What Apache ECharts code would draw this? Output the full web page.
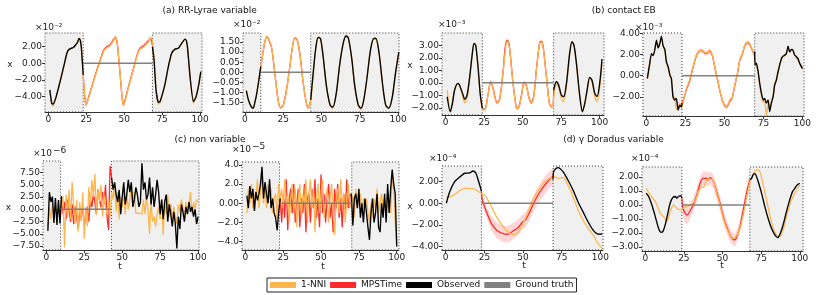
<!DOCTYPE html>
<html><head><meta charset="utf-8">
<script src="https://cdn.jsdelivr.net/npm/echarts@6/dist/echarts.min.js"></script>
<style>html,body{margin:0;padding:0;background:#fff}#c{width:831px;height:295px}</style>
</head><body><div id="c"></div><script>
// ---------- shared ticks ----------
const X_TICKS = [0, 25, 50, 75, 100];
const X_LABELS = ['0', '25', '50', '75', '100'];
function seq(t0, vals){ return vals.map((v,i)=>[t0+i, v]); }

// ---------- (a) RR-Lyrae, panel 1 (x1e-2) ----------
const A1_yticks = [2,0,-2,-4];
const A1_ylabels = ['2.00','0.00','−2.00','−4.00'];
const A1_gap = [23.0, 68.6];
const A1_truth = [[23.0,0],[68.6,0]];
const A1_obsL = [[1,-3.2],[2.2,-4.8],[3.3,-4.9],[5,-4.1],[6.6,-3.0],[8.8,-1.4],[11,0.3],[12.2,1.2],[13.2,1.6],[15,1.8],[16.5,1.9],[18,2.2],[19.2,2.5],[20.2,3.0],[21,2.8],[21.8,1.8],[23,-1.4]];
const A1_obsR = [[68.6,2.0],[69.7,0.4],[71,-3.2],[72.5,-4.7],[73.6,-4.6],[75.5,-3.5],[77,-2.4],[79.1,-0.4],[81.3,1.2],[83.5,1.7],[85.7,1.8],[87.9,2.4],[90.1,2.9],[91,2.7],[91.8,1.8],[93.4,-1.6],[95.6,-4.6],[97.4,-4.0],[99.3,-2.4],[100.5,-1.0]];
const A1_nni = [[1,-3.3],[2.5,-5.1],[3.5,-5.0],[5,-4.2],[6.6,-3.1],[8.8,-1.5],[11,0.2],[12.2,1.1],[13.2,1.6],[15,1.8],[16.5,1.9],[18,2.2],[19.2,2.6],[20.2,3.0],[21,2.9],[21.8,2.0],[23,-1.6],[24,-4.0],[24.8,-5.1],[25.5,-4.8],[27.5,-3.6],[30.8,-1.6],[34,0.2],[36.3,1.4],[38,1.8],[40.7,2.1],[42.8,2.7],[44.4,3.2],[45.5,2.4],[47.3,-1.2],[48.5,-3.8],[49.4,-5.1],[50.3,-4.7],[52.7,-3.0],[56,-0.8],[58.7,1.0],[60.4,1.7],[63,2.0],[65.9,2.6],[67.7,3.1],[68.8,2.6],[69.7,0.4],[71,-3.3],[72.5,-4.9],[73.6,-4.8],[75.5,-3.6],[77,-2.5],[79.1,-0.5],[81.3,1.1],[83.5,1.7],[85.7,1.8],[87.9,2.4],[90.1,2.9],[91,2.8],[91.8,2.0],[93.4,-1.5],[95.6,-4.8],[97.4,-4.1],[99.3,-2.5],[100.5,-1.1]];
const A1_mps = [[23,-1.4],[24,-4.0],[24.8,-5.0],[25.5,-4.7],[27.5,-3.5],[30.8,-1.5],[34,0.3],[36.3,1.5],[38,1.9],[40.7,2.2],[42.8,2.8],[44.4,3.1],[45.5,2.3],[47.3,-1.3],[48.5,-3.9],[49.4,-5.0],[50.3,-4.6],[52.7,-2.9],[56,-0.7],[58.7,1.1],[60.4,1.8],[63,2.1],[65.9,2.7],[67.7,3.0],[68.6,2.2]];
const A1_band = [0.1,0.15,0.2,0.2,0.2,0.2,0.2,0.25,0.25,0.25,0.3,0.35,0.3,0.2,0.2,0.2,0.2,0.2,0.2,0.25,0.25,0.25,0.3,0.35,0.2];

// ---------- (a) RR-Lyrae, panel 2 (x1e-2) ----------
const A2_yticks = [1.5,1,0.5,0,-0.5,-1,-1.5];
const A2_ylabels = ['1.50','1.00','0.05','0.00','−0.05','−1.00','−1.50'];
const A2_gap = [10.4, 43.0];
const A2_truth = [[10.4,0],[43.0,0]];
const A2_obsL = [[1,-0.9],[2.5,-1.4],[4.4,-1.72],[5.4,-1.77],[6.5,-1.5],[7.6,-1.12],[9.3,-0.3],[10.4,0.28]];
const A2_obsR = [[43,-1.36],[44.6,-0.05],[46.4,1.26],[47.9,1.72],[49.4,1.65],[51.1,0.77],[53.3,-0.71],[55.6,-1.61],[57.3,-1.72],[59.5,-1.12],[62,0.44],[64.2,1.43],[66,1.79],[67.5,1.7],[69.6,0.77],[71.8,-0.71],[74,-1.61],[75.8,-1.77],[77.6,-1.36],[79.8,-0.22],[82,1.1],[84.2,1.67],[85.5,1.67],[87.6,0.94],[89.8,-0.54],[91.9,-1.61],[93.9,-1.77],[96.1,-1.28],[98.3,-0.05],[100.5,1.0]];
const A2_nni = [[1,-0.9],[2.5,-1.45],[4.4,-1.75],[5.4,-1.78],[6.5,-1.5],[7.6,-1.1],[9.3,-0.3],[10.4,0.28],[11.9,1.0],[13,1.5],[14.3,1.78],[15.5,1.65],[17.4,1.26],[19.6,-0.05],[21.7,-1.36],[23.3,-1.77],[25,-1.66],[27.2,-0.87],[29.4,0.28],[31.1,1.26],[32.6,1.7],[34.1,1.63],[35.9,0.94],[38,-0.46],[39.8,-1.36],[41.3,-1.77],[43,-1.36],[44.6,-0.05],[46.4,1.26],[47.9,1.75],[49.4,1.7],[51.1,0.77],[53.3,-0.71],[55.6,-1.61],[57.3,-1.78],[59.5,-1.12],[62,0.44],[64.2,1.43],[66,1.82],[67.5,1.7],[69.6,0.77],[71.8,-0.71],[74,-1.65],[75.8,-1.85],[77.6,-1.4],[79.8,-0.22],[82,1.1],[84.2,1.7],[85.5,1.68],[87.6,0.94],[89.8,-0.54],[91.9,-1.65],[93.9,-1.8],[96.1,-1.28],[98.3,-0.05],[100.5,1.0]];
const A2_mps = [[10.4,0.28],[11.9,1.0],[13,1.5],[14.3,1.76],[15.5,1.63],[17.4,1.24],[19.6,-0.07],[21.7,-1.38],[23.3,-1.76],[25,-1.64],[27.2,-0.85],[29.4,0.3],[31.1,1.27],[32.6,1.7],[34.1,1.62],[35.9,0.92],[38,-0.48],[39.8,-1.38],[41.3,-1.76],[43,-1.36]];
const A2_band = [0.03,0.05,0.06,0.07,0.07,0.06,0.05,0.05,0.06,0.06,0.05,0.06,0.07,0.07,0.06,0.05,0.05,0.06,0.06,0.04];

// ---------- (b) contact EB, panel 1 (x1e-3) ----------
const B1_yticks = [4,3,2,1,0,-1,-2];
const B1_ylabels = ['4.00','3.00','2.00','1.00','0.00','−1.00','−2.00'];
const B1_gap = [23.8, 70.1];
const B1_truth = [[23.8,0],[70.1,0]];
const B1_obsL = [[1,-1.12],[3,-2.32],[4.3,-1.7],[5.8,-0.58],[8,-0.05],[9,-0.2],[11.3,-0.98],[12.3,-1.33],[13.9,-0.98],[15.6,0.48],[17.3,2.35],[18.4,3.15],[19.5,3.0],[21,1.28],[22.5,-0.98],[23.8,-2.05]];
const B1_obsR = [[70.1,-0.58],[71.9,0.08],[73.4,-0.2],[75.1,-0.98],[76.6,-1.12],[78.4,-0.05],[80.5,2.35],[82,3.28],[83.3,3.0],[84.9,1.55],[87,-0.98],[88.8,-2.32],[90.3,-1.65],[92,-0.45],[93.5,0.43],[95,0.2],[96.8,-0.85],[98.3,-1.1],[100,-0.05],[101.5,1.9]];
const B1_nni = [[1,-0.6],[3,-2.2],[4.3,-1.6],[5.8,-0.55],[8,-0.05],[9,-0.25],[11.3,-1.2],[12.3,-1.6],[13.9,-1.2],[15.6,0.4],[17.3,2.3],[18.4,3.1],[19.5,2.95],[21,1.2],[22.5,-1.1],[23.8,-2.1],[25.3,-2.18],[27.5,-0.98],[29.2,0.08],[30.7,-0.45],[33.3,-1.65],[35,-1.4],[37.2,0.75],[39.4,3.2],[40.5,3.25],[41.6,2.6],[43.7,-0.05],[45.9,-2.05],[47,-2.1],[49.1,-1.12],[50.9,0],[52.4,-0.3],[54.1,-1.25],[55.6,-1.65],[57.2,-1.12],[58.9,1.0],[61,3.15],[62.1,3.25],[63.2,2.9],[65.4,0.48],[67.5,-1.78],[69.3,-1.97],[70.1,-1.2],[71.9,-0.1],[73.4,-0.4],[75.1,-1.2],[76.6,-1.5],[78.4,-0.3],[80.5,2.2],[82,3.2],[83.3,3.0],[84.9,1.45],[87,-1.1],[88.8,-2.2],[90.3,-1.75],[92,-0.6],[93.5,0.3],[95,0.1],[96.8,-1.1],[98.3,-1.5],[100,-0.4],[101.5,1.6]];
const B1_mps = [[23.8,-2.05],[25.3,-2.15],[27.5,-0.95],[29.2,0.1],[30.7,-0.4],[33.3,-1.6],[35,-1.35],[37.2,0.8],[39.4,3.35],[40.5,3.35],[41.6,2.65],[43.7,0],[45.9,-2.0],[47,-2.05],[49.1,-1.05],[50.9,0.05],[52.4,-0.25],[54.1,-1.2],[55.6,-1.6],[57.2,-1.05],[58.9,1.05],[61,3.2],[62.1,3.3],[63.2,2.95],[65.4,0.5],[67.5,-1.75],[69.3,-1.95],[70.1,-0.58]];
const B1_band = [0.05,0.12,0.15,0.15,0.15,0.15,0.15,0.15,0.2,0.2,0.2,0.15,0.15,0.15,0.15,0.15,0.15,0.15,0.15,0.15,0.15,0.2,0.2,0.2,0.15,0.15,0.12,0.05];

// ---------- (b) contact EB, panel 2 (x1e-3) ----------
const B2_yticks = [4,2,0,-2];
const B2_ylabels = ['4.00','2.00','0.00','−2.00'];
const B2_gap = [22.8, 69.4];
const B2_truth = [[22.8,0],[69.4,0]];
const B2_obsL = [[0.6,-0.25],[2.1,1.17],[3.2,2.1],[4.3,1.9],[5.3,2.4],[6.4,3.37],[7.5,2.63],[8.5,3.0],[9.6,3.76],[10.7,2.8],[11.8,2.5],[12.8,1.33],[13.9,0.85],[15,0.06],[16,-0.25],[17,-2.0],[18.1,-2.3],[19.2,-2.15],[20.3,-3.25],[21.4,-2.8],[22.4,-2.96],[22.8,-2.6]];
const B2_obsR = [[69.4,2.3],[69.6,1.0],[70.5,1.2],[71.6,0.4],[72.6,-0.7],[73.7,-1.65],[74.8,-2.3],[75.8,-2.15],[76.9,-2.6],[78,-2.3],[79,-3.4],[80.1,-2.6],[81.2,-2.0],[82.2,-0.9],[83.3,-0.4],[84.4,0.4],[85.4,1.0],[86.5,1.6],[87.5,1.84],[88.6,1.93],[89.7,2.1],[90.8,2.8],[91.8,2.27],[92.9,2.5],[93.9,2.44],[95,1.96],[96.1,1.8],[97.1,1.64],[98.2,1.17],[100,0.7]];
const B2_nni = [[0.6,-0.3],[2.1,1.0],[3.2,2.0],[4.3,2.0],[5.3,2.5],[6.4,3.2],[7.5,2.8],[8.5,3.1],[9.6,3.6],[10.7,2.9],[11.8,2.3],[12.8,1.2],[13.9,0.9],[15,0.2],[16,-0.4],[17,-1.8],[18.1,-2.1],[19.2,-3.2],[20.3,-3.0],[21.4,-2.6],[22.4,-3.1],[23.9,-2.3],[25.6,-1.2],[27.7,-0.4],[29.9,0.85],[32,1.96],[34.2,2.44],[36.3,2.4],[37.4,2.15],[39.1,2.2],[40.6,2.44],[42.3,1.96],[43.8,0.85],[45.3,-0.1],[47,-1.36],[48.7,-2.3],[50.2,-2.8],[51.7,-2.9],[53.4,-2.3],[55.1,-2.0],[56.6,-0.9],[58.3,0.2],[59.8,1.5],[61.5,2.1],[63,2.9],[64.7,3.2],[66.2,3.05],[67.9,2.44],[69,2.1],[69.6,1.2],[70.5,1.0],[71.6,0.2],[72.6,-0.9],[73.7,-1.9],[74.8,-2.5],[75.8,-2.4],[76.9,-3.8],[78,-2.6],[79,-3.2],[80.1,-2.3],[81.2,-1.9],[82.2,-0.7],[83.3,-0.5],[84.4,0.3],[85.4,1.1],[86.5,1.5],[87.5,1.9],[88.6,2.0],[89.7,2.1],[90.8,2.6],[91.8,2.3],[92.9,2.4],[93.9,2.3],[95,2.0],[96.1,1.7],[97.1,1.5],[98.2,1.2],[100,0.6]];
const B2_mps = [[22.8,-2.6],[23.9,-2.2],[25.6,-1.3],[27.7,-0.5],[29.9,0.8],[32,1.9],[34.2,2.4],[36.3,2.35],[37.4,2.1],[39.1,2.15],[40.6,2.4],[42.3,1.9],[43.8,0.8],[45.3,-0.15],[47,-1.4],[48.7,-2.35],[50.2,-2.85],[51.7,-2.95],[53.4,-2.4],[55.1,-2.05],[56.6,-0.95],[58.3,0.15],[59.8,1.45],[61.5,2.05],[63,2.85],[64.7,3.15],[66.2,3.0],[67.9,2.4],[69.4,2.0]];
const B2_band = [0.05,0.15,0.18,0.2,0.2,0.2,0.2,0.2,0.2,0.2,0.2,0.2,0.2,0.2,0.2,0.2,0.22,0.22,0.2,0.2,0.2,0.2,0.2,0.2,0.2,0.22,0.22,0.2,0.1];

// ---------- (c) non variable, panel 1 (x1e-6) ----------
const C1_yticks = [7.5,5,2.5,0,-2.5,-5,-7.5];
const C1_ylabels = ['7.50','5.00','2.50','0.00','−2.50','−5.00','−7.50'];
const C1_gap = [9.4, 42.9];
const C1_truth = [[9.4,0],[42.9,0]];
const C1_obsL = seq(1, [-4.4,3.5,1.5,2.6,-2.8,2.3,-3.2,1.9,-2.9,2.7]);
const C1_obsR = seq(43, [6.5,4.0,5.5,3.0,1.5,4.0,-1.0,2.5,5.5,1.0, 3.0,6.0,3.5,5.5,0.5,2.0,4.5,3.0,0.5,1.5, 9.4,4.0,5.5,2.0,3.0,6.5,1.0,4.5,0.5,3.0, 6.0,3.5,-1.0,2.0,-2.0,1.5,3.0,-2.5,1.0,-1.0, -3.5,-0.5,-3.0,-8.0,-1.5,-4.0,1.0,-0.5,-2.5,0.5, -1.0,1.5,-0.5,0.5,-1.5,0.0,-3.0,-1.5]);
const C1_nni = seq(1, [-3.5,0.5,-2.0,1.0,-1.5,0.8,-2.5,1.2,-1.0,0.5, 2.5,-7.8,3.0,-1.5,4.0,-2.0,5.5,1.0,-3.0,2.0, -4.5,1.5,-2.5,3.5,-6.0,0.5,-3.5,4.5,1.0,6.0, 2.5,7.2,-1.0,4.0,1.5,5.0,-1.5,3.0,0.5,-1.0, 2.0,-1.5,3.5,2.0,5.5,-0.5,3.5,-2.0,2.5,0.5, 4.0,-1.0,3.0,0.0,2.0,4.5,1.0,3.5,-0.8,-0.8, -0.8,-0.8,-1.0,2.0,-1.0,2.5,0.0,-5.0,1.5,-2.5, -1.5,-3.5,-1.0,0.5,-2.0,2.0,-5.2,1.5,-1.0,3.0, -1.5,1.0,-2.0,0.5,-1.5,-3.0,1.0,-0.5,2.0,0.5, -1.5,1.5,0.0,1.0,3.5,-1.0,1.5,0.0,2.0,1.5]);
const C1_mps = seq(10, [2.7,-1.0,1.5,-2.0,2.0,-0.5,-2.5,1.0,-3.0,0.5,-1.5,-4.0,-0.5,-2.0,1.0,-3.5,-1.5,0.5,-2.5,2.0,0.5,3.0,1.5,-1.0,4.0,2.0,0.5,3.5,1.0,5.0,-1.5,-4.2,8.8,6.5]);
const C1_band = [0.3,0.7,0.7,0.8,0.7,0.7,0.8,0.7,0.8,0.7,0.7,0.8,0.7,0.7,0.8,0.8,0.7,0.7,0.8,0.7,0.7,0.8,0.7,0.7,0.8,0.7,0.7,0.8,0.7,0.8,0.7,0.8,0.8,0.3];

// ---------- (c) non variable, panel 2 (x1e-5) ----------
const C2_yticks = [4,2,0,-2,-4];
const C2_ylabels = ['4.0','2.0','0.00','−2.0','−4.0'];
const C2_gap = [22.6, 70.3];
const C2_truth = [[22.6,0],[70.3,0]];
const C2_obsL = seq(1, [0.8,-0.5,1.8,0.5,1.5,-0.8,1.2,0.3,1.0,2.0,3.8,0.5,2.2,1.0,0.0,2.5,-0.5,0.5,-1.0,-1.5,-2.8,-1.0,0.5]);
const C2_obsR = seq(70, [1.0,-2.3,0.5,1.0,-0.5,1.5,-1.5,0.0,-2.0,0.5,-1.0,-2.5,-3.8,-1.0,0.5,-2.0,-1.0,1.0,-2.5,-3.0,0.0,-1.5,1.0,-2.0,2.0,-1.0,1.5,3.5,2.0,1.0,-4.5]);
const C2_nni = seq(1, [-1.0,1.5,0.0,2.0,-0.5,1.0,0.5,2.5,-0.5,1.0,3.5,0.0,1.5,-0.5,2.0,0.5,1.5,-1.0,0.5,1.0,-1.5,2.0,0.5, 1.5,-0.5,2.5,0.0,1.0,-2.0,0.5,2.0,-1.0,1.5,-2.5,0.5,2.0,-1.5,1.0,0.0,2.5,-2.0,1.0,2.5,-0.5,1.5,-3.0,0.5,2.0,-1.0,1.0,2.5,-1.5,0.5,1.5,-2.0,0.5,2.0,-1.0,-3.3,0.5,1.5,-1.0,2.5,0.0,1.0,-2.0,0.5,2.0,-0.5,1.0, 0.5,-1.5,1.5,-0.5,0.5,1.0,-1.0,0.5,-0.5,0.5,-1.0,-2.0,0.0,-1.5,0.5,-0.5,1.5,-1.0,0.0,1.0,-0.5,0.5,-1.5,1.0,0.0,-1.0,3.0,1.5,-2.0,-4.2]);
const C2_mps = seq(23, [0.5,-2.0,1.0,-1.5,2.5,-2.8,0.5,1.5,-1.0,2.0,-2.0,0.0,1.5,-2.5,0.5,-1.0,2.0,-3.0,0.5,1.0,-2.0,1.5,-0.5,2.5,-1.5,0.5,-2.5,3.0,-1.0,1.0,-2.0,0.5,2.0,-1.5,0.0,-3.0,1.5,-0.5,2.0,-1.5,0.5,-2.5,1.0,-1.0,2.5,-0.5,1.0,0.5]);
const C2_band = [0.2,0.45,0.45,0.5,0.45,0.5,0.45,0.45,0.5,0.45,0.45,0.5,0.45,0.45,0.5,0.45,0.5,0.45,0.45,0.5,0.45,0.45,0.5,0.45,0.5,0.45,0.45,0.5,0.45,0.45,0.5,0.45,0.5,0.45,0.45,0.5,0.45,0.45,0.5,0.45,0.5,0.45,0.45,0.5,0.45,0.45,0.4,0.2];

// ---------- (d) gamma Doradus, panel 1 (x1e-4) ----------
const D1_yticks = [2,0,-2,-4];
const D1_ylabels = ['2.00','0.00','−2.00','−4.00'];
const D1_gap = [23.1, 69.4];
const D1_truth = [[23.1,0],[69.4,0]];
const D1_obsL = [[0.4,0],[2.6,1.07],[5.8,2.0],[9.4,2.46],[12.3,2.77],[15.5,2.8],[17.6,2.98],[19.4,2.8],[20.9,2.2],[22.6,1.38],[23.1,1.1]];
const D1_obsR = [[69.4,2.2],[70,3.0],[72.6,3.29],[75.8,2.92],[79,2.15],[82.3,1.23],[85.5,0.15],[88.7,-0.77],[92,-1.7],[95.2,-2.46],[97.4,-2.77],[99.9,-2.86],[101.2,-2.8]];
const D1_nni = [[0.4,0.6],[2.6,0.6],[5.1,0.75],[7,0.95],[9.4,1.2],[11.5,1.35],[13.7,1.4],[15.7,1.35],[17.7,1.35],[19.5,1.25],[21,1.1],[23,0.9],[25.2,0.77],[28.4,0],[30.5,-0.6],[32.8,-1.23],[35,-1.7],[37.1,-2.15],[39.3,-2.5],[41.4,-2.77],[43,-2.85],[44.6,-2.9],[46.2,-2.75],[47.8,-2.46],[51,-1.54],[54.3,-0.46],[57.5,0.62],[60.8,1.38],[64,2.0],[67.2,2.3],[69.4,2.37],[70.4,2.46],[72.6,2.3],[75.8,2.37],[79,1.69],[82.3,0.62],[85.5,-0.6],[88.7,-1.54],[92,-2.3],[95.2,-2.9],[98.4,-3.7],[101.2,-4.15]];
const D1_mps = [[23.1,1.1],[23.7,0.3],[26.3,-0.77],[29.5,-1.85],[32.8,-2.46],[35.5,-2.7],[38.8,-2.86],[41,-2.83],[43.1,-2.6],[46.8,-2.25],[49.5,-1.75],[51.7,-1.5],[54.3,-0.83],[56.4,-0.15],[58.5,0.46],[61.8,1.23],[65,1.85],[68.3,2.37],[69.4,2.46]];
const D1_band = [0.3,0.45,0.55,0.65,0.72,0.75,0.77,0.77,0.75,0.72,0.7,0.7,0.72,0.75,0.77,0.8,0.8,0.75,0.7];

// ---------- (d) gamma Doradus, panel 2 (x1e-4) ----------
const D2_yticks = [2,1,0,-1,-2,-3];
const D2_ylabels = ['2.00','1.00','0.00','−1.00','−2.00','−3.00'];
const D2_gap = [23.7, 67.7];
const D2_truth = [[23.7,0],[67.7,0]];
const D2_obsL = [[0.6,0.83],[2.2,0.6],[4.3,0],[6.5,-0.83],[8.6,-1.67],[10.1,-1.95],[11.4,-1.9],[12.9,-1.43],[14.4,-0.71],[16.1,0.12],[17.8,0.52],[19.4,0.6],[20.4,0.48],[21.5,0.6],[23,0.67],[23.7,0.5]];
const D2_obsR = [[67.7,1.8],[68.8,1.9],[69.9,2.17],[71,2.24],[72.1,2.0],[73.1,1.67],[75.3,0.83],[77.4,-0.12],[79.5,-0.95],[81.7,-1.67],[83.9,-2.14],[85.6,-2.33],[87,-2.14],[89.2,-1.43],[91.4,-0.48],[93.5,0.36],[95.3,0.95],[96.8,1.19],[98.3,1.43],[100,1.55]];
const D2_nni = [[0.6,1.19],[3.2,0.71],[6.5,0.24],[9.7,-0.6],[11.8,-0.83],[14,-1.19],[16.1,-0.48],[18.3,0],[20.4,-0.24],[23,-0.36],[23.6,-0.3],[26.9,-0.12],[29,0],[32.3,0.29],[34.4,0.95],[36.6,1.31],[37.6,1.24],[39.8,1.79],[41.9,1.86],[44.1,1.67],[46.2,0.83],[48.4,0],[50.5,-0.95],[52.7,-1.67],[54.8,-2.14],[56.6,-2.38],[58.7,-2.26],[61.3,-1.67],[63.4,-0.71],[65.6,0.48],[67.3,1.43],[69,2.0],[71,2.43],[72.5,2.5],[74.2,2.38],[76.3,1.43],[78.5,0.36],[80.6,-0.71],[82.8,-1.67],[84.9,-2.14],[87,-2.26],[89.2,-1.79],[91.4,-0.83],[93.5,0],[95.7,0.6],[97.8,1.07],[100,1.43]];
const D2_mps = [[23.7,0.5],[24.3,-0.19],[25.8,-0.6],[27.3,-0.71],[29,-0.43],[31.2,0.05],[33.4,0.71],[35.5,1.55],[37.6,1.9],[39.8,1.9],[40.9,1.79],[41.9,1.95],[44.1,1.67],[46.2,0.95],[48.4,0.12],[50.5,-0.83],[52.7,-1.55],[54.8,-2.14],[56.6,-2.43],[58.1,-2.5],[59.6,-2.14],[61.3,-1.55],[63,-0.6],[64.5,0.24],[66,1.07],[67.7,1.8]];
const D2_band = [0.3,0.6,0.7,0.65,0.55,0.5,0.5,0.5,0.48,0.48,0.48,0.48,0.5,0.5,0.5,0.5,0.5,0.48,0.45,0.45,0.45,0.45,0.45,0.45,0.4,0.35];

// ---------- text ----------
const TITLES = ['(a) RR-Lyrae variable', '(b) contact EB', '(c) non variable', '(d) γ Doradus variable'];
const LEGEND_NAMES = ['1-NNI', 'MPSTime', 'Observed', 'Ground truth'];

// ---------- layout / styling ----------
const FONT = 'DejaVu Sans';
const C_NNI = '#fdb64e', C_MPS = '#ff2a2a', C_OBS = '#000000', C_GT = '#808080';
const P = [
 {g:{left:45,top:33,width:157,height:79}, x:[-2.2,101.3], y:[-5.85,3.64], yt:A1_yticks, yl:A1_ylabels, gap:A1_gap, truth:A1_truth, obsL:A1_obsL, obsR:A1_obsR, nni:A1_nni, mps:A1_mps, band:A1_band, sm:0.15},
 {g:{left:243,top:33,width:156,height:79}, x:[-1.2,100.6], y:[-1.96,1.94], yt:A2_yticks, yl:A2_ylabels, gap:A2_gap, truth:A2_truth, obsL:A2_obsL, obsR:A2_obsR, nni:A2_nni, mps:A2_mps, band:A2_band, sm:0.3},
 {g:{left:442,top:33,width:162,height:82}, x:[-2.4,102.8], y:[-2.58,3.98], yt:B1_yticks, yl:B1_ylabels, gap:B1_gap, truth:B1_truth, obsL:B1_obsL, obsR:B1_obsR, nni:B1_nni, mps:B1_mps, band:B1_band, sm:0.3},
 {g:{left:643,top:33,width:161,height:83}, x:[-2.2,101.0], y:[-3.82,4.05], yt:B2_yticks, yl:B2_ylabels, gap:B2_gap, truth:B2_truth, obsL:B2_obsL, obsR:B2_obsR, nni:B2_nni, mps:B2_mps, band:B2_band, sm:0.15},
 {g:{left:43,top:161,width:156,height:89}, x:[-2.2,100.6], y:[-8.3,9.86], yt:C1_yticks, yl:C1_ylabels, gap:C1_gap, truth:C1_truth, obsL:C1_obsL, obsR:C1_obsR, nni:C1_nni, mps:C1_mps, band:C1_band, sm:0},
 {g:{left:242,top:162,width:157,height:88}, x:[-2.2,101.5], y:[-4.86,4.3], yt:C2_yticks, yl:C2_ylabels, gap:C2_gap, truth:C2_truth, obsL:C2_obsL, obsR:C2_obsR, nni:C2_nni, mps:C2_mps, band:C2_band, sm:0},
 {g:{left:442,top:166,width:161,height:84}, x:[-2.4,101.7], y:[-4.31,3.44], yt:D1_yticks, yl:D1_ylabels, gap:D1_gap, truth:D1_truth, obsL:D1_obsL, obsR:D1_obsR, nni:D1_nni, mps:D1_mps, band:D1_band, sm:0.3},
 {g:{left:642,top:167,width:161,height:84}, x:[-2.1,102.1], y:[-3.29,2.71], yt:D2_yticks, yl:D2_ylabels, gap:D2_gap, truth:D2_truth, obsL:D2_obsL, obsR:D2_obsR, nni:D2_nni, mps:D2_mps, band:D2_band, sm:0.3}
];

const AXC = '#333';
const grid = P.map(p => Object.assign({outerBoundsMode:'none', containLabel:false}, p.g));
const xAxis = P.map((p,i) => ({
  type:'value', gridIndex:i, min:p.x[0], max:p.x[1],
  axisLine:{show:true, onZero:false, lineStyle:{color:AXC, width:1}},
  axisTick:{show:true, length:3, customValues:X_TICKS, lineStyle:{color:AXC}},
  axisLabel:{customValues:X_TICKS, fontFamily:FONT, fontSize:9, color:'#222', margin:3,
    formatter:v => X_LABELS[X_TICKS.indexOf(v)]},
  splitLine:{show:false}
}));
const yAxis = P.map((p,i) => ({
  type:'value', gridIndex:i, min:p.y[0], max:p.y[1],
  axisLine:{show:true, onZero:false, lineStyle:{color:AXC, width:1}},
  axisTick:{show:true, length:3, customValues:p.yt, lineStyle:{color:AXC}},
  axisLabel:{customValues:p.yt, fontFamily:FONT, fontSize:9, color:'#222', margin:3,
    formatter:v => p.yl[p.yt.indexOf(v)]},
  splitLine:{show:false}
}));

const series = [];
P.forEach((p,i) => {
  const base = {xAxisIndex:i, yAxisIndex:i, symbol:'none', silent:true, animation:false};
  series.push({
    type:'custom', xAxisIndex:i, yAxisIndex:i, silent:true, z:2, clip:true,
    data:[p.mps[0]],
    renderItem:(params, api) => {
      if (params.dataIndex !== 0) return null;
      const up = p.mps.map((q,k) => api.coord([q[0], q[1] + p.band[k]]));
      const dn = p.mps.map((q,k) => api.coord([q[0], q[1] - p.band[k]])).reverse();
      return {type:'polygon', shape:{points: up.concat(dn)}, style:{fill:'rgba(255,70,70,0.22)'}};
    }
  });
  series.push(Object.assign({}, base, {type:'line', name:'MPSTime', data:p.mps, color:C_MPS, smooth:p.sm, z:3, lineStyle:{width:1.3, color:C_MPS}}));
  series.push(Object.assign({}, base, {type:'line', name:'1-NNI', data:p.nni, color:C_NNI, smooth:p.sm, z:4, lineStyle:{width:1.3, color:C_NNI}}));
  series.push(Object.assign({}, base, {type:'line', name:'Observed', data:p.obsL, color:C_OBS, smooth:p.sm, z:5, lineStyle:{width:1.35, color:C_OBS}}));
  series.push(Object.assign({}, base, {type:'line', name:'Observed', data:p.obsR, color:C_OBS, smooth:p.sm, z:5, lineStyle:{width:1.35, color:C_OBS}}));
  series.push(Object.assign({}, base, {type:'line', name:'Ground truth', data:p.truth, color:C_GT, z:6, lineStyle:{width:1.6, color:C_GT},
    markArea:{silent:true, z:1, label:{show:false},
      itemStyle:{color:'#f0f0f0', borderColor:'#333', borderWidth:1, borderType:[1,2]},
      data:[[{xAxis:p.x[0]},{xAxis:p.gap[0]}],[{xAxis:p.gap[1]},{xAxis:p.x[1]}]]}}));
});

function txt(x, y, s, opt){
  return {type:'text', x:x, y:y, silent:true, style:Object.assign({text:s, fontFamily:FONT, fontSize:9, fill:'#222', textAlign:'left', textVerticalAlign:'middle'}, opt||{})};
}
const graphic = [
  txt(209.7, 10.5, TITLES[0], {textAlign:'center', fill:'#111'}),
  txt(623.7, 10.5, TITLES[1], {textAlign:'center', fill:'#111'}),
  txt(210, 139.5, TITLES[2], {textAlign:'center', fill:'#111'}),
  txt(613.5, 139.5, TITLES[3], {textAlign:'center', fill:'#111'}),
  txt(35, 27.5, '×10⁻²'), txt(233, 25, '×10⁻²'), txt(438, 25, '×10⁻³'), txt(635, 28, '×10⁻³'),
  txt(33, 154, '×10'), txt(53, 151, '−6'),
  txt(232, 150, '×10'), txt(252, 147, '−5'),
  txt(429, 159, '×10⁻⁴'), txt(631, 159, '×10⁻⁴'),
  txt(10, 65, 'x', {textAlign:'center'}), txt(410, 66, 'x', {textAlign:'center'}),
  txt(8.5, 208, 'x', {textAlign:'center'}), txt(410, 207, 'x', {textAlign:'center'}),
  txt(120, 266.5, 't', {textAlign:'center'}), txt(323, 266.5, 't', {textAlign:'center'}),
  txt(524, 265.5, 't', {textAlign:'center'}), txt(722, 265.5, 't', {textAlign:'center'})
];

const legendColors = [C_NNI, C_MPS, C_OBS, C_GT];
const option = {
  animation:false,
  backgroundColor:'#fff',
  grid, xAxis, yAxis, series, graphic,
  legend:{
    left:267, top:278, orient:'horizontal', selectedMode:false,
    itemWidth:26, itemHeight:6, itemGap:4,
    padding:[2,3,2,3], borderColor:'#222', borderWidth:1, borderRadius:0,
    textStyle:{fontFamily:FONT, fontSize:9, color:'#111', lineHeight:10},
    data: LEGEND_NAMES.map((n,k) => ({name:n, icon:'rect', itemStyle:{color:legendColors[k], borderWidth:0}}))
  }
};
const chart = echarts.init(document.getElementById('c'), null, {renderer:'canvas', width:831, height:295});
chart.setOption(option);
</script></body></html>
